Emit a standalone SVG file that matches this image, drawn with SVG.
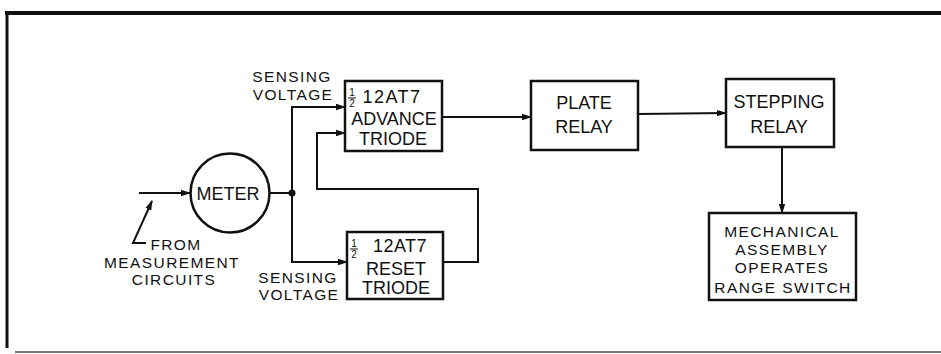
<svg xmlns="http://www.w3.org/2000/svg" width="941" height="354" viewBox="0 0 941 354">
<style>
text{font-family:"Liberation Sans",Arial,sans-serif;fill:#111;font-size:18px;text-anchor:middle}
.st{font-size:15.5px;letter-spacing:1.4px}
.fr{font-size:10px}
.box{fill:#fff;stroke:#111;stroke-width:2.5}
.ln{fill:none;stroke:#111;stroke-width:2}
.frame{stroke:#111;fill:none}
</style>
<defs>
<marker id="ah" markerWidth="10" markerHeight="8" refX="9" refY="4" orient="auto" markerUnits="userSpaceOnUse">
<path d="M0,0.8 L10,4 L0,7.2 Z" fill="#111"/>
</marker>
</defs>
<rect width="941" height="354" fill="#fff"/>
<g id="frame">
<line class="frame" x1="5" y1="13" x2="941" y2="13" stroke-width="4"/>
<line class="frame" x1="7" y1="12" x2="7" y2="348" stroke-width="3"/>
<line x1="15" y1="352" x2="941" y2="352" stroke="#777" stroke-width="2"/>
</g>
<g id="connectors">
<line class="ln" x1="139" y1="193" x2="190" y2="193" marker-end="url(#ah)"/>
<line class="ln" x1="270" y1="193" x2="292" y2="193"/>
<circle cx="292" cy="193" r="3.5" fill="#111"/>
<polyline class="ln" points="345,107 292,107 292,262 347,262" marker-end="url(#ah)"/>
<line class="ln" x1="292" y1="107" x2="345" y2="107" marker-end="url(#ah)"/>
<polyline class="ln" points="443,262 478,262 478,189 317,189 317,133 345,133" marker-end="url(#ah)"/>
<line class="ln" x1="442" y1="117" x2="531" y2="117" marker-end="url(#ah)"/>
<line class="ln" x1="638" y1="114" x2="726" y2="113" stroke-width="1.6" marker-end="url(#ah)"/>
<line class="ln" x1="782" y1="147" x2="782" y2="213" marker-end="url(#ah)"/>
<polyline class="ln" points="146,243 133,243 152,201" stroke-width="1.8" marker-end="url(#ah)"/>
</g>
<g id="meter">
<circle cx="230" cy="193" r="39.5" class="box"/>
<text x="228" y="200">METER</text>
</g>
<g id="from-label">
<text class="st" x="176" y="250">FROM</text>
<text class="st" x="172" y="268">MEASUREMENT</text>
<text class="st" x="174" y="285">CIRCUITS</text>
</g>
<g id="sensing-top">
<text class="st" x="292" y="82">SENSING</text>
<text class="st" x="293" y="100">VOLTAGE</text>
</g>
<g id="sensing-bottom">
<text class="st" x="298" y="283">SENSING</text>
<text class="st" x="299" y="300">VOLTAGE</text>
</g>
<g id="advance-triode">
<rect class="box" x="345" y="81" width="97" height="70"/>
<text class="fr" x="352" y="96">1</text>
<line x1="348" y1="98" x2="356" y2="98" stroke="#111" stroke-width="1"/>
<text class="fr" x="352" y="107">2</text>
<text x="392" y="103" font-size="19" letter-spacing="1.5">12AT7</text>
<text x="394" y="125">ADVANCE</text>
<text x="393" y="145">TRIODE</text>
</g>
<g id="reset-triode">
<rect class="box" x="347" y="232" width="96" height="67"/>
<text class="fr" x="354" y="247">1</text>
<line x1="350" y1="249" x2="358" y2="249" stroke="#111" stroke-width="1"/>
<text class="fr" x="354" y="258">2</text>
<text x="400" y="252" letter-spacing="0.5">12AT7</text>
<text x="396" y="275">RESET</text>
<text x="396" y="294">TRIODE</text>
</g>
<g id="plate-relay">
<rect class="box" x="531" y="81" width="107" height="69"/>
<text x="584" y="109">PLATE</text>
<text x="584" y="133">RELAY</text>
</g>
<g id="stepping-relay">
<rect class="box" x="726" y="79" width="108" height="68"/>
<text x="779" y="108">STEPPING</text>
<text x="779" y="133">RELAY</text>
</g>
<g id="mechanical-assembly">
<rect class="box" x="709" y="213" width="147" height="87"/>
<text class="st" x="782" y="237" letter-spacing="2">MECHANICAL</text>
<text class="st" x="782" y="255">ASSEMBLY</text>
<text class="st" x="782" y="273">OPERATES</text>
<text class="st" x="783" y="293" letter-spacing="1.1">RANGE SWITCH</text>
</g>
</svg>
